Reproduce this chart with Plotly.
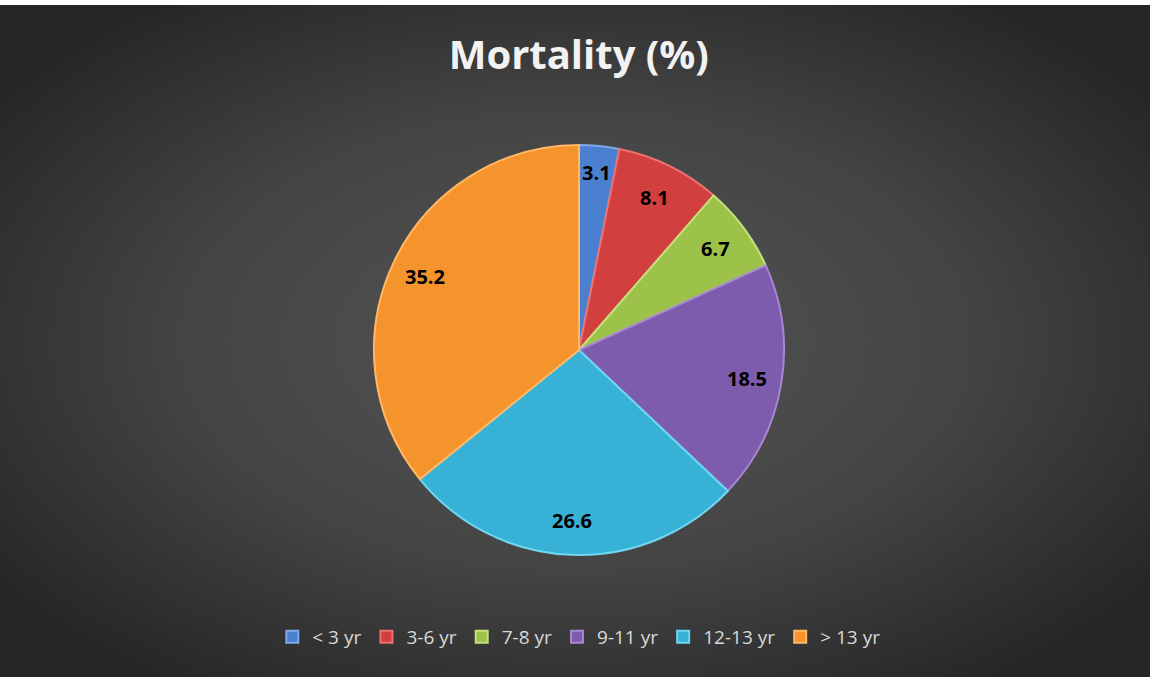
import base64
import math
import plotly.graph_objects as go

categories = ["< 3 yr", "3-6 yr", "7-8 yr", "9-11 yr", "12-13 yr", "> 13 yr"]
values = [3.1, 8.1, 6.7, 18.5, 26.6, 35.2]
labels_text = ["3.1", "8.1", "6.7", "18.5", "26.6", "35.2"]
colors = ["#4a80cf", "#d13f3f", "#9cc24a", "#7e5cad", "#37b2d6", "#f5932c"]
edge_colors = ["#7fa9e6", "#ec7272", "#c3e27a", "#a687d1", "#6fd6f2", "#ffb866"]

W, H = 1153, 677
cx, cy, R = 579, 350, 205

# radial gradient background as SVG data URI
svg = f'''<svg xmlns="http://www.w3.org/2000/svg" width="{W}" height="{H}" viewBox="0 0 {W} {H}" preserveAspectRatio="none">
<defs><radialGradient id="g" cx="50%" cy="50%" r="62%">
<stop offset="0%" stop-color="#555555"/><stop offset="55%" stop-color="#444444"/><stop offset="100%" stop-color="#262626"/>
</radialGradient></defs>
<rect x="0" y="0" width="{W}" height="{H}" fill="url(#g)"/></svg>'''
bg_uri = "data:image/svg+xml;base64," + base64.b64encode(svg.encode()).decode()

fig = go.Figure()
fig.add_trace(go.Pie(
    labels=categories,
    values=values,
    sort=False,
    direction="clockwise",
    rotation=0,
    marker=dict(colors=colors, line=dict(color=edge_colors, width=2)),
    textinfo="none",
    hoverinfo="label+value",
    domain=dict(x=[(cx - R) / W, (cx + R) / W], y=[1 - (cy + R) / H, 1 - (cy - R) / H]),
    showlegend=True,
))

# data labels placed along each slice's mid-angle
total = sum(values)
cum = 0.0
annotations = []
for i, (v, t) in enumerate(zip(values, labels_text)):
    mid = (cum + v / 2) / total * 2 * math.pi
    cum += v
    rr = 0.87 if i == 0 else 0.83
    px = cx + rr * R * math.sin(mid)
    py = cy - rr * R * math.cos(mid)
    annotations.append(dict(x=px / W, y=1 - py / H, xref="paper", yref="paper",
                            xanchor="center", yanchor="middle",
                            text=f"<b>{t}</b>", showarrow=False,
                            font=dict(family="Open Sans", size=20, color="#000000")))

fig.update_layout(
    width=W, height=H,
    margin=dict(l=0, r=0, t=0, b=0),
    paper_bgcolor="#ffffff",
    plot_bgcolor="rgba(0,0,0,0)",
    images=[dict(source=bg_uri, xref="paper", yref="paper", x=0, y=1 - 5 / H,
                 sizex=1150 / W, sizey=(H - 5) / H, xanchor="left", yanchor="top",
                 sizing="stretch", layer="below")],
    title=dict(text="<b>Mortality (%)</b>", x=0.502, xanchor="center", y=1 - 55 / H, yanchor="middle",
               font=dict(family="Open Sans", size=40, color="#f2f2f2")),
    legend=dict(orientation="h", x=0.502, xanchor="center", y=1 - 637 / H, yanchor="middle",
                font=dict(family="Open Sans", size=19, color="#d9d9d9"),
                bgcolor="rgba(0,0,0,0)", itemwidth=30, traceorder="normal"),
    annotations=annotations,
)

fig.write_html("out.html", config={"displayModeBar": False},
               post_script="document.body.style.margin='0px';document.body.style.overflow='hidden';")
